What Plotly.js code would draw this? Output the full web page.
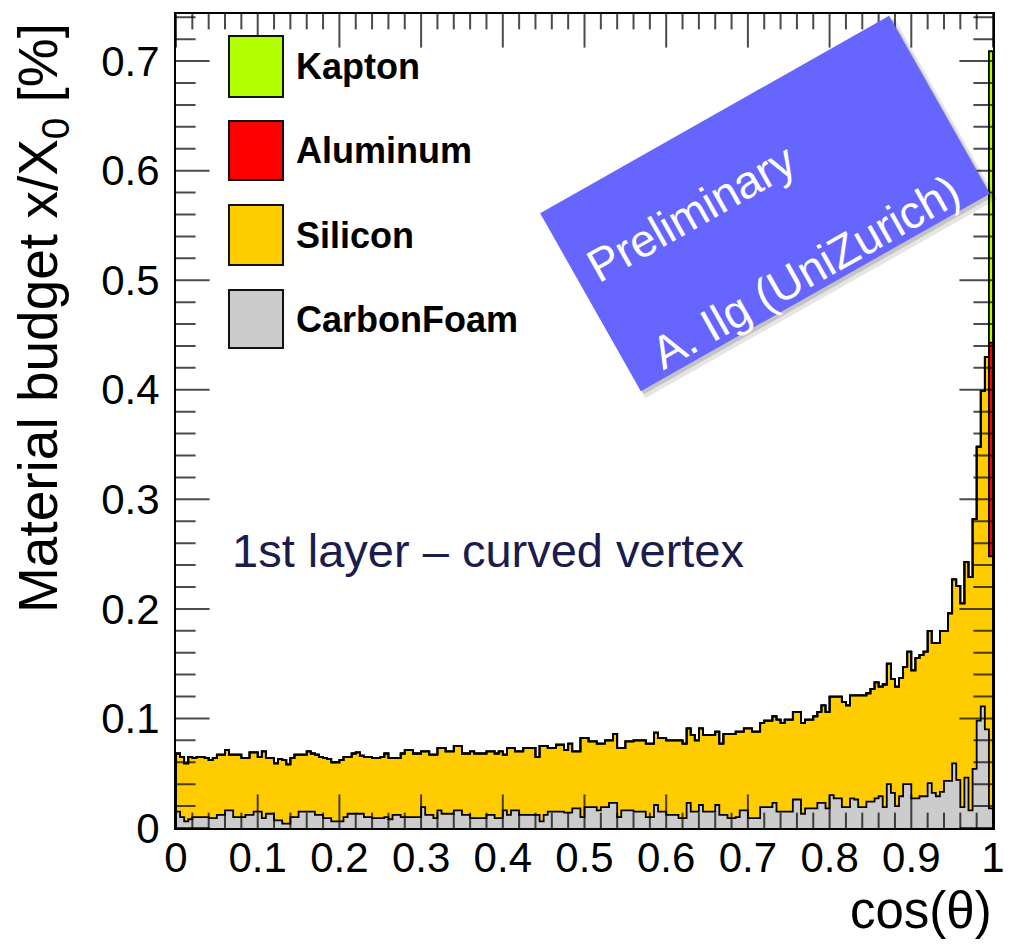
<!DOCTYPE html>
<html>
<head>
<meta charset="utf-8">
<script src="https://cdn.plot.ly/plotly-3.0.1.min.js"></script>
<style>
html,body{margin:0;padding:0;background:#ffffff;}
#chart{width:1013px;height:952px;}
</style>
</head>
<body>
<div id="chart"></div>
<script>
// ---------------- data ----------------
const nBins = 200;
const xMin = 0, xMax = 1;

const carbonFoam = [
0.015,0.010,0.006,0.008,0.010,0.010,0.010,0.010,0.009,0.009,
0.012,0.012,0.016,0.016,0.010,0.010,0.010,0.012,0.012,0.015,
0.015,0.009,0.013,0.013,0.007,0.007,0.004,0.004,0.010,0.010,
0.015,0.015,0.015,0.015,0.012,0.012,0.009,0.009,0.006,0.006,
0.006,0.010,0.013,0.013,0.013,0.013,0.010,0.010,0.009,0.009,
0.009,0.010,0.008,0.012,0.012,0.010,0.010,0.010,0.010,0.010,
0.019,0.012,0.012,0.009,0.016,0.013,0.013,0.013,0.016,0.016,
0.012,0.012,0.009,0.009,0.009,0.009,0.012,0.012,0.009,0.009,
0.016,0.012,0.016,0.016,0.012,0.012,0.012,0.012,0.012,0.006,
0.012,0.015,0.015,0.015,0.015,0.014,0.014,0.018,0.018,0.010,
0.019,0.019,0.019,0.016,0.019,0.019,0.023,0.023,0.010,0.016,
0.016,0.016,0.015,0.015,0.015,0.010,0.010,0.021,0.015,0.015,
0.012,0.012,0.012,0.009,0.009,0.023,0.015,0.015,0.021,0.015,
0.015,0.015,0.021,0.012,0.012,0.009,0.009,0.010,0.016,0.016,
0.009,0.009,0.009,0.019,0.019,0.019,0.023,0.015,0.015,0.015,
0.015,0.026,0.026,0.013,0.018,0.018,0.018,0.023,0.023,0.018,
0.030,0.027,0.027,0.019,0.019,0.027,0.026,0.019,0.019,0.024,
0.024,0.027,0.029,0.019,0.040,0.032,0.020,0.029,0.040,0.040,
0.027,0.027,0.029,0.029,0.041,0.032,0.029,0.033,0.043,0.043,
0.059,0.044,0.019,0.046,0.016,0.054,0.098,0.111,0.090,0.018
];

const silicon = [
0.053,0.055,0.053,0.057,0.054,0.055,0.055,0.054,0.053,0.055,
0.055,0.055,0.055,0.051,0.057,0.057,0.054,0.052,0.057,0.054,
0.050,0.061,0.051,0.051,0.052,0.056,0.058,0.054,0.054,0.057,
0.052,0.052,0.055,0.053,0.055,0.053,0.055,0.054,0.054,0.054,
0.056,0.055,0.052,0.055,0.056,0.053,0.055,0.055,0.055,0.055,
0.056,0.058,0.056,0.052,0.052,0.058,0.061,0.061,0.058,0.058,
0.051,0.058,0.055,0.058,0.057,0.060,0.057,0.057,0.059,0.059,
0.056,0.056,0.061,0.059,0.059,0.059,0.058,0.058,0.059,0.061,
0.051,0.061,0.057,0.054,0.058,0.061,0.061,0.061,0.053,0.069,
0.063,0.058,0.058,0.061,0.061,0.057,0.063,0.052,0.052,0.072,
0.063,0.060,0.060,0.061,0.058,0.061,0.057,0.063,0.063,0.057,
0.063,0.063,0.065,0.065,0.065,0.067,0.067,0.066,0.067,0.067,
0.068,0.068,0.068,0.071,0.068,0.068,0.070,0.065,0.070,0.070,
0.070,0.070,0.067,0.065,0.074,0.077,0.077,0.078,0.072,0.075,
0.082,0.079,0.079,0.077,0.079,0.079,0.079,0.084,0.081,0.084,
0.084,0.080,0.080,0.083,0.081,0.081,0.084,0.083,0.089,0.088,
0.090,0.093,0.093,0.096,0.093,0.094,0.095,0.102,0.102,0.099,
0.103,0.106,0.100,0.112,0.110,0.104,0.109,0.108,0.107,0.121,
0.117,0.128,0.129,0.132,0.139,0.137,0.140,0.147,0.137,0.153,
0.168,0.177,0.186,0.197,0.213,0.228,0.250,0.288,0.340,0.230
];

const aluminum = [
0,0,0,0,0,0,0,0,0,0, 0,0,0,0,0,0,0,0,0,0, 0,0,0,0,0,0,0,0,0,0, 0,0,0,0,0,0,0,0,0,0,
0,0,0,0,0,0,0,0,0,0, 0,0,0,0,0,0,0,0,0,0, 0,0,0,0,0,0,0,0,0,0, 0,0,0,0,0,0,0,0,0,0,
0,0,0,0,0,0,0,0,0,0, 0,0,0,0,0,0,0,0,0,0, 0,0,0,0,0,0,0,0,0,0, 0,0,0,0,0,0,0,0,0,0,
0,0,0,0,0,0,0,0,0,0, 0,0,0,0,0,0,0,0,0,0, 0,0,0,0,0,0,0,0,0,0, 0,0,0,0,0,0,0,0,0,0,
0,0,0,0,0,0,0,0,0,0, 0,0,0,0,0,0,0,0,0,0, 0,0,0,0,0,0,0,0,0,0, 0,0,0,0,0,0,0,0,0,0.195
];

const kapton = [
0,0,0,0,0,0,0,0,0,0, 0,0,0,0,0,0,0,0,0,0, 0,0,0,0,0,0,0,0,0,0, 0,0,0,0,0,0,0,0,0,0,
0,0,0,0,0,0,0,0,0,0, 0,0,0,0,0,0,0,0,0,0, 0,0,0,0,0,0,0,0,0,0, 0,0,0,0,0,0,0,0,0,0,
0,0,0,0,0,0,0,0,0,0, 0,0,0,0,0,0,0,0,0,0, 0,0,0,0,0,0,0,0,0,0, 0,0,0,0,0,0,0,0,0,0,
0,0,0,0,0,0,0,0,0,0, 0,0,0,0,0,0,0,0,0,0, 0,0,0,0,0,0,0,0,0,0, 0,0,0,0,0,0,0,0,0,0,
0,0,0,0,0,0,0,0,0,0, 0,0,0,0,0,0,0,0,0,0, 0,0,0,0,0,0,0,0,0,0, 0,0,0,0,0,0,0,0,0,0.266
];

const layerNames  = ['CarbonFoam', 'Silicon', 'Aluminum', 'Kapton'];
const layerValues = [carbonFoam, silicon, aluminum, kapton];
const layerColors = ['#cccccc', '#ffcc00', '#ff0000', '#b3ff00'];
const legendOrder = ['Kapton', 'Aluminum', 'Silicon', 'CarbonFoam'];

const xTitle = 'cos(θ)';
const yTitle = 'Material budget x/X<sub>0</sub> [%]';
const plotLabel = '1st layer – curved vertex';
const stampLines = ['Preliminary', 'A. Ilg (UniZurich)'];

// axis settings
const xRange = [0, 1], yRange = [0, 0.743];
const majorStep = 0.1, minorStep = 0.02;

// ---------------- geometry of the page ----------------
const W = 1013, H = 952;
const M = {l: 176, r: 20, t: 14, b: 124};
const PW = W - M.l - M.r, PH = H - M.t - M.b;
const px = x => (x - M.l) / PW;          // pixel -> paper
const py = y => (M.t + PH - y) / PH;

const FONT = 'Liberation Sans, Arial, Helvetica, sans-serif';

// ---------------- ROOT-style tick marks (the frame's inner comb on all four sides) ----------------
const xSpan = xRange[1] - xRange[0], ySpan = yRange[1] - yRange[0];
function tickValues(lo, hi, step) {
  const out = [], n = Math.round((hi - lo) / step);
  for (let i = 0; i <= n; i++) out.push(+(lo + i * step).toFixed(6));
  return out;
}
const majorX = tickValues(0, 1, majorStep), majorY = tickValues(0, 0.7, majorStep);
const isMajor = (v, list) => list.some(m => Math.abs(m - v) < 1e-6);

// ---------------- traces ----------------
const binW = (xMax - xMin) / nBins;
const edges = [];
for (let i = 0; i <= nBins; i++) edges.push(xMin + i * binW);

const traces = [];
let cum = new Array(nBins).fill(0);
layerValues.forEach((vals, k) => {
  cum = cum.map((c, i) => c + vals[i]);
  const xs = [edges[0]], ys = [0];
  for (let i = 0; i < nBins; i++) { xs.push(edges[i]); ys.push(cum[i]); }
  xs.push(edges[nBins]); ys.push(cum[nBins - 1]);
  xs.push(edges[nBins]); ys.push(0);
  traces.push({
    type: 'scatter', mode: 'lines', name: layerNames[k],
    x: xs, y: ys,
    line: {shape: 'hv', color: '#000000', width: 1.8},
    fill: k === 0 ? 'tozeroy' : 'tonexty',
    fillcolor: layerColors[k],
    showlegend: false, hoverinfo: 'skip'
  });
});

// tick marks as markers of the library's own "line" symbols, one trace per side
function sideTrace(xs, ys, sizes, symbol) {
  return {type: 'scatter', mode: 'markers', x: xs, y: ys, cliponaxis: true,
    marker: {symbol: symbol, size: sizes, color: '#000000', line: {color: '#000000', width: 2}},
    showlegend: false, hoverinfo: 'skip'};
}
{
  const xv = tickValues(0, 1, minorStep);
  const len = xv.map(v => isMajor(v, majorX) ? 48 : 22);   // marker is centred: half lies outside and is clipped
  traces.push(sideTrace(xv, xv.map(() => yRange[0]), len, 'line-ns'));
  traces.push(sideTrace(xv, xv.map(() => yRange[1]), len, 'line-ns'));
  const yv = tickValues(0, 0.74, minorStep);
  const leny = yv.map(v => isMajor(v, majorY) ? 48 : 28);
  traces.push(sideTrace(yv.map(() => xRange[0]), yv, leny, 'line-ew'));
  traces.push(sideTrace(yv.map(() => xRange[1]), yv, leny, 'line-ew'));
}

// ---------------- decorations ----------------
const shapes = [];
const annotations = [];

// legend (ROOT TLegend style)
const legBoxX = [229, 283];
const legBoxY = {Kapton: [36, 97], Aluminum: [121, 180], Silicon: [205, 265], CarbonFoam: [290, 348]};
legendOrder.forEach(name => {
  const k = layerNames.indexOf(name);
  const yb = legBoxY[name];
  shapes.push({type: 'rect', xref: 'paper', yref: 'paper',
    x0: px(legBoxX[0]), x1: px(legBoxX[1]), y0: py(yb[1]), y1: py(yb[0]),
    fillcolor: layerColors[k], line: {color: '#111111', width: 2}, layer: 'above'});
  annotations.push({xref: 'paper', yref: 'paper', x: px(294), y: py((yb[0] + yb[1]) / 2),
    xanchor: 'left', yanchor: 'middle', showarrow: false,
    text: '<b>' + name + '</b>', font: {family: FONT, size: 36, color: '#000000'}});
});

// rotated "Preliminary" stamp
const stamp = {cx: 765, cy: 203.5, w: 401, h: 204.5, ang: 29.5};
function rectPath(cx, cy, w, h, angDeg) {
  const a = angDeg * Math.PI / 180;
  const ux = Math.cos(a), uy = -Math.sin(a), vx = Math.sin(a), vy = Math.cos(a);
  const pts = [[-1, -1], [1, -1], [1, 1], [-1, 1]].map(([s, t]) =>
    [cx + s * w / 2 * ux + t * h / 2 * vx, cy + s * w / 2 * uy + t * h / 2 * vy]);
  return 'M' + pts.map(p => px(p[0]).toFixed(5) + ',' + py(p[1]).toFixed(5)).join(' L') + ' Z';
}
shapes.push({type: 'path', xref: 'paper', yref: 'paper', layer: 'above',
  path: rectPath(stamp.cx + 5, stamp.cy + 5, stamp.w + 3, stamp.h + 3, stamp.ang),
  fillcolor: 'rgba(0,0,0,0.10)', line: {width: 0}});
shapes.push({type: 'path', xref: 'paper', yref: 'paper', layer: 'above',
  path: rectPath(stamp.cx + 3, stamp.cy + 3, stamp.w, stamp.h, stamp.ang),
  fillcolor: 'rgba(0,0,0,0.15)', line: {width: 0}});
shapes.push({type: 'path', xref: 'paper', yref: 'paper', layer: 'above',
  path: rectPath(stamp.cx, stamp.cy, stamp.w, stamp.h, stamp.ang),
  fillcolor: '#6666ff', line: {width: 0}});

const stampPos = [[691, 213], [805, 272]];
stampLines.forEach((t, i) => {
  annotations.push({xref: 'paper', yref: 'paper', x: px(stampPos[i][0]), y: py(stampPos[i][1]),
    xanchor: 'center', yanchor: 'middle', showarrow: false, textangle: -stamp.ang,
    text: t, font: {family: FONT, size: 46, color: '#ffffff'}});
});

// in-plot label
annotations.push({xref: 'paper', yref: 'paper', x: px(230), y: py(550),
  xanchor: 'left', yanchor: 'middle', showarrow: false,
  text: plotLabel, font: {family: FONT, size: 47, color: '#1c1c4c'}});

// axis titles (ROOT aligns them to the axis end)
annotations.push({xref: 'paper', yref: 'paper', x: px(994), y: py(911),
  xanchor: 'right', yanchor: 'middle', showarrow: false,
  text: xTitle, font: {family: FONT, size: 51, color: '#000000'}});
annotations.push({xref: 'paper', yref: 'paper', x: px(42), y: py(21),
  xanchor: 'center', yanchor: 'top', showarrow: false, textangle: -90,
  text: yTitle, font: {family: FONT, size: 55, color: '#000000'}});

const axisCommon = {
  ticks: '', showline: true, linewidth: 2, linecolor: '#000000', mirror: true,
  showgrid: false, zeroline: false, fixedrange: true,
  tickfont: {family: FONT, size: 42, color: '#000000'}
};

const layout = {
  width: W, height: H,
  margin: M,
  paper_bgcolor: '#ffffff', plot_bgcolor: '#ffffff',
  showlegend: false,
  xaxis: Object.assign({}, axisCommon, {
    range: xRange, tick0: 0, dtick: majorStep, ticklabelstandoff: -8
  }),
  yaxis: Object.assign({}, axisCommon, {
    range: yRange, tick0: 0, dtick: majorStep, ticklabelstandoff: 6
  }),
  shapes: shapes,
  annotations: annotations
};

Plotly.newPlot('chart', traces, layout, {displayModeBar: false, staticPlot: true});
</script>
</body>
</html>
